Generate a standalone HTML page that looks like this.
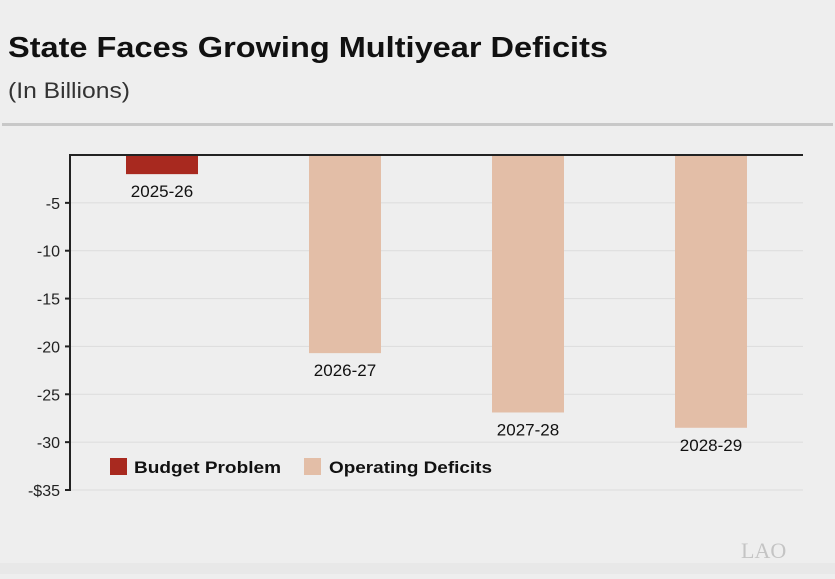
<!DOCTYPE html>
<html><head><meta charset="utf-8"><style>
body{margin:0;background:#eeeeee;width:835px;height:574px;overflow:hidden;font-family:"Liberation Sans",sans-serif}
</style></head><body>
<svg width="835" height="574" xmlns="http://www.w3.org/2000/svg">
<rect width="835" height="574" fill="#eeeeee"/>
<rect y="563" width="835" height="11" fill="#e8e8e8"/>
<text x="8" y="57" font-size="29" font-weight="bold" fill="#111" textLength="600" lengthAdjust="spacingAndGlyphs">State Faces Growing Multiyear Deficits</text>
<text x="8" y="98" font-size="22" fill="#333" textLength="122" lengthAdjust="spacingAndGlyphs">(In Billions)</text>
<rect x="2" y="123" width="831" height="3" fill="#c8c8c8"/>
<g id="grid"></g>
<g id="bars"></g>
<line x1="70" y1="155" x2="803" y2="155" stroke="#222" stroke-width="2"/>
<line x1="70" y1="154" x2="70" y2="491" stroke="#222" stroke-width="2"/>
<g>
<rect x="110" y="458" width="17" height="17" fill="#a8291f"/>
<text x="134" y="473" font-size="17" font-weight="bold" fill="#111" textLength="147" lengthAdjust="spacingAndGlyphs">Budget Problem</text>
<rect x="304" y="458" width="17" height="17" fill="#e3bea7"/>
<text x="329" y="473" font-size="17" font-weight="bold" fill="#111" textLength="163" lengthAdjust="spacingAndGlyphs">Operating Deficits</text>
</g>
<text x="741" y="558" font-size="22" font-family="Liberation Serif,serif" fill="#c4c4c4">LAO</text>
</svg>
<script>
const categories=["2025-26","2026-27","2027-28","2028-29"];
const values=[-2.0,-20.7,-26.9,-28.5];
const seriesKind=["budget","operating","operating","operating"];
const tickValues=[-5,-10,-15,-20,-25,-30,-35];
const tickLabels=["-5","-10","-15","-20","-25","-30","-$35"];
const NS="http://www.w3.org/2000/svg";
const y=v=>155-v*(335/35);
const x=i=>126+i*183;
const grid=document.getElementById('grid'),bars=document.getElementById('bars');
function mk(tag,attrs,parent){const e=document.createElementNS(NS,tag);for(const k in attrs)e.setAttribute(k,attrs[k]);parent.appendChild(e);return e;}
tickValues.forEach((t,i)=>{
 const l=mk('line',{x1:70,x2:803,y1:y(t),y2:y(t),stroke:'#dcdcdc','stroke-width':1},grid);
 
 
 const tk=mk('line',{x1:65,x2:70,y1:y(t),y2:y(t),stroke:'#222','stroke-width':2},grid);
 
 
 const tx=mk('text',{x:60,y:y(t)+6,'text-anchor':'end','font-size':16,fill:'#222'},grid);
 tx.textContent=tickLabels[i];
 
 
});
values.forEach((v,i)=>{
 const y0=Math.min(y(0),y(v)),h=Math.abs(y(v)-y(0));
 const r=mk('rect',{x:x(i),y:y0,width:72,height:h,fill:seriesKind[i]==='budget'?'#a8291f':'#e3bea7'},bars);
 
 
 const t=mk('text',{x:x(i)+36,y:y(v)+23,'text-anchor':'middle','font-size':17,fill:'#111'},bars);
 t.textContent=categories[i];
 
 
});
</script>
</body></html>
